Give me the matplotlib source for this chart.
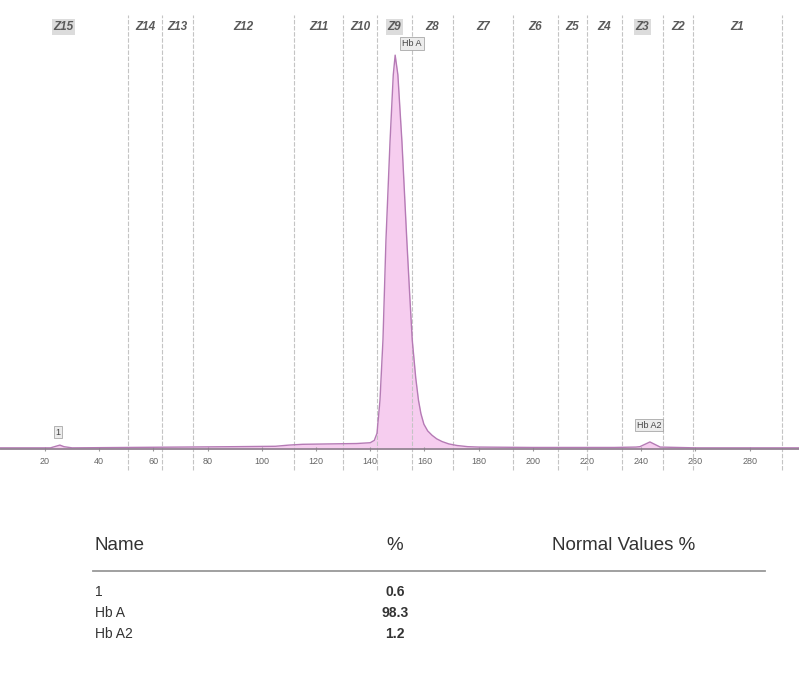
import matplotlib.pyplot as plt
import numpy as np

plt.rcParams['font.family'] = ['Liberation Sans', 'DejaVu Sans']

# trace (x = migration units, y = relative height)
trace_x = [3.4, 15, 22, 24, 25.5, 27, 30, 50, 70, 90, 105, 110, 115, 125, 135, 140,
           141.5, 142.5, 143.6, 144.7, 145.8, 147.3, 148.5, 149.2, 150.2, 151.7,
           153.5, 154.5, 155.5, 156.8, 157.8, 158.7, 159.8, 161.2, 162.8, 164.5,
           166.5, 169, 172, 176, 180,
           200, 230, 238, 239.5, 243.2, 247, 260, 298.2]
trace_y = [0.3, 0.3, 0.3, 0.7, 1.0, 0.6, 0.3, 0.4, 0.5, 0.6, 0.7, 1.0, 1.2, 1.3, 1.4, 1.6,
           2.2, 4.0, 12.4, 27.7, 53, 78, 95, 100, 95, 78,
           53, 40, 27.7, 18, 12.4, 9.0, 6.3, 4.6, 3.5, 2.6,
           1.9, 1.3, 0.9, 0.6, 0.5,
           0.4, 0.4, 0.5, 0.6, 1.8, 0.5, 0.3, 0.3]

# zone boundaries and names
zone_bounds = [3.0, 50.6, 63.2, 74.6, 111.9, 130.0, 142.5, 155.4, 170.6, 192.7,
               209.3, 220.0, 232.9, 248.0, 259.1, 291.9]
zone_names = ['Z15', 'Z14', 'Z13', 'Z12', 'Z11', 'Z10', 'Z9', 'Z8', 'Z7', 'Z6',
              'Z5', 'Z4', 'Z3', 'Z2', 'Z1']
boxed_zones = ['Z15', 'Z9', 'Z3']

# peak labels
peak_names = ['1', 'Hb A', 'Hb A2']
peak_label_x = [24.8, 155.4, 242.9]
peak_label_y = [4.3, 103, 6.1]

# results table
table_names = ['1', 'Hb A', 'Hb A2']
table_pct = ['0.6', '98.3', '1.2']

xticks = list(range(20, 300, 20))

fig = plt.figure(figsize=(7.99, 6.75), dpi=100)
ax = fig.add_axes([0, 1 - 490 / 675, 1, 490 / 675])
ax.set_xlim(3.4, 298.2)
ax.set_ylim(-10.4, 114)

# zone lines
ax.vlines(zone_bounds[1:], -5.3, 110.2, colors='#c4c4c4', linestyles=(0, (4, 1.5)), lw=0.8)

for i, name in enumerate(zone_names):
    xm = (zone_bounds[i] + zone_bounds[i + 1]) / 2
    bbox = None
    if name in boxed_zones:
        bbox = dict(boxstyle='square,pad=0.15', fc='#dcdcdc', ec='none')
    ax.text(xm, 107.1, name, ha='center', va='center', fontsize=8.5,
            style='italic', fontweight='bold', color='#5a5a5a', bbox=bbox)

# trace
ax.fill_between(trace_x, 0, trace_y, color='#f6cdef', lw=0)
ax.plot(trace_x, trace_y, color='#b57ab5', lw=1)

for name, px, py in zip(peak_names, peak_label_x, peak_label_y):
    ax.text(px, py, name, ha='center', va='center', fontsize=6.5, color='#444444',
            bbox=dict(boxstyle='square,pad=0.2', fc='#ececec', ec='#999999', lw=0.5))

# baseline axis
for s in ['top', 'left', 'right']:
    ax.spines[s].set_visible(False)
ax.spines['bottom'].set_position(('data', 0))
ax.spines['bottom'].set_color('#8c7f8c')
ax.spines['bottom'].set_linewidth(1.2)
ax.set_yticks([])
ax.set_xticks(xticks)
ax.set_xticklabels([str(t) for t in xticks], fontsize=6.5, color='#666666')
ax.tick_params(axis='x', direction='inout', length=3, color='#999999', pad=4)
ax.patch.set_alpha(0)

# table below the chart
fs = 13.5
fig.text(95 / 799, 1 - 545 / 675, 'Name', ha='left', va='center', fontsize=fs, color='#333333')
fig.text(395 / 799, 1 - 545 / 675, '%', ha='center', va='center', fontsize=fs, color='#333333')
fig.text(552 / 799, 1 - 545 / 675, 'Normal Values %', ha='left', va='center', fontsize=fs, color='#333333')
fig.add_artist(plt.Line2D([93 / 799, 765 / 799], [1 - 571 / 675] * 2, color='#999999', lw=1.3))

row_y = [592, 613, 634]
for name, pct, ry in zip(table_names, table_pct, row_y):
    fig.text(95 / 799, 1 - ry / 675, name, ha='left', va='center', fontsize=10, color='#333333')
    fig.text(395 / 799, 1 - ry / 675, pct, ha='center', va='center', fontsize=10,
             fontweight='bold', color='#333333')

fig.savefig('out.png', dpi=100)
